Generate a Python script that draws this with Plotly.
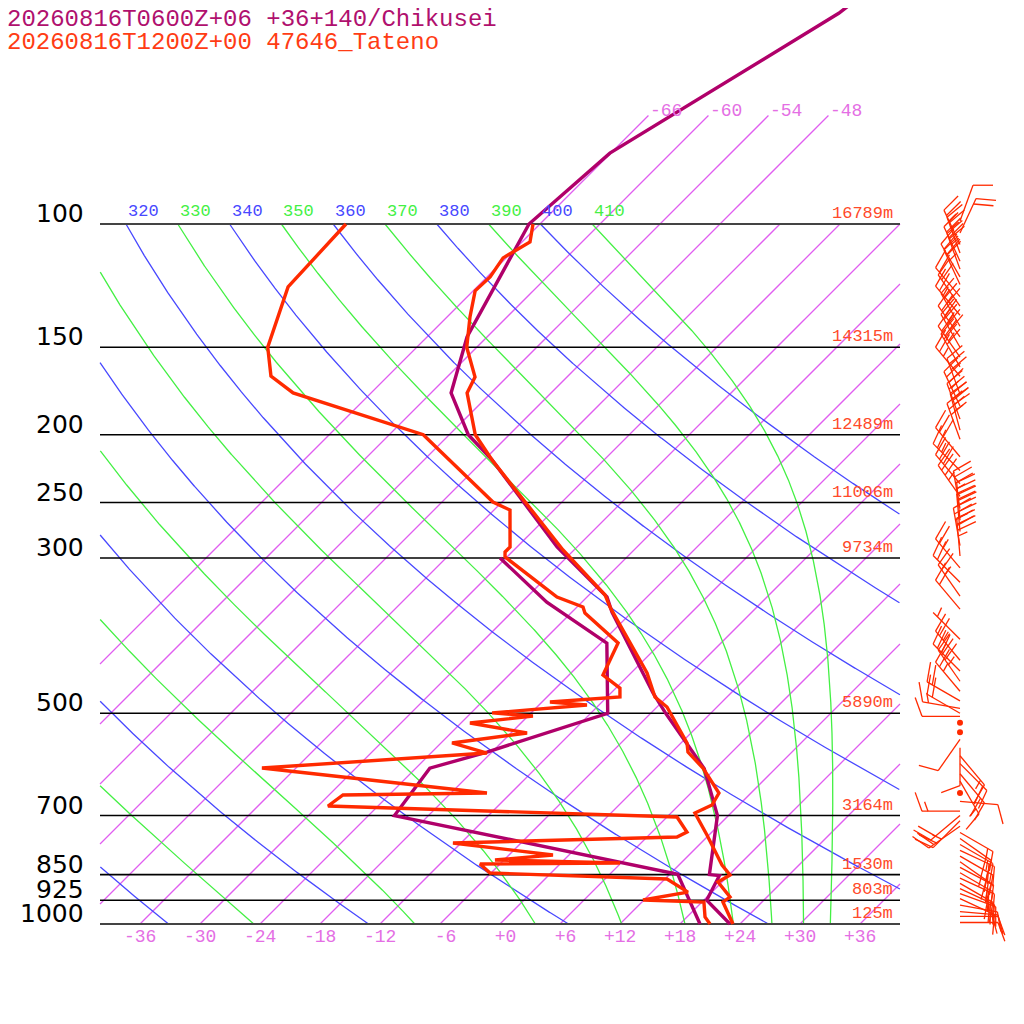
import numpy as np
import plotly.graph_objects as go

# --- sounding 1: 20260816T0600Z+06 +36+140/Chikusei (purple) ---
chik_t_p = [47.9, 50.0, 79.2, 100, 145, 174.3, 200, 217.3, 289.3, 341.1, 358.4,
            467.7, 500, 600, 700, 850, 853, 925, 1000]
chik_t = [-56.8, -57.2, -66.1, -67.1, -62.0, -58.0, -52.1, -47.2, -32.0, -22.0, -20.0,
          -7.8, -4.5, 4.9, 10.9, 16.0, 17.1, 18.3, 23.0]
chik_td_p = [300, 347, 397, 500, 568, 599, 700, 849, 1000]
chik_td = [-36.6, -27.5, -17.4, -10.3, -18.5, -22.6, -21.4, 12.8, 20.0]

# --- sounding 2: 20260816T1200Z+00 47646_Tateno (red) ---
tat_t_p = [100, 106.1, 111.8, 119.0, 124.6, 135.8, 150, 165.4, 174.3, 200, 217.3,
           292.2, 338.8, 352.5, 437.9, 474, 489.8, 551.3, 568, 598.7, 650, 676.1,
           694.3, 746.3, 802.3, 823.6, 851, 871, 915.1, 930.4, 1000]
tat_t = [-66.7, -65.2, -66.3, -65.7, -65.8, -63.7, -61.0, -57.2, -56.4, -51.4, -47.2,
         -31.1, -22.4, -20.7, -10.4, -7.2, -5.0, 0.6, 1.6, 4.7, 8.8, 9.3,
         8.4, 11.8, 15.1, 16.3, 18.1, 17.6, 20.3, 20.1, 23.3]
tat_td_p = [100, 123.0, 150, 164.9, 174.3, 200, 249.6, 256.2, 289.3, 294.1, 299.0,
            341.1, 352.5, 359.6, 396.7, 440.9, 460.2, 474.0, 481.9, 486.6, 499.4,
            504.6, 516.3, 533.4, 551.3, 569.8, 598.7, 650.0, 654.2, 678.3, 703.3,
            739.0, 751.2, 766.2, 797.0, 810.2, 818.2, 820.9, 845.5, 862.4, 900.4,
            924.2, 930.4, 977.2, 1000]
tat_td = [-85.4, -84.9, -80.9, -77.7, -73.8, -56.6, -42.9, -40.4, -36.7, -36.7, -36.2,
          -27.0, -23.4, -22.6, -16.3, -14.6, -11.6, -10.7, -17.2, -13.2, -21.9,
          -17.5, -23.1, -16.4, -22.9, -18.4, -39.4, -14.4, -28.6, -29.0, 7.0,
          9.5, 9.0, -12.8, -1.6, -6.9, 5.9, -8.0, -6.1, 12.2, 15.6,
          11.9, 18.2, 19.8, 21.0]

# winds (Tateno): pressure hPa, direction deg, speed kt
wind_p = [99, 103, 107, 110, 113, 116, 119, 122, 127, 131, 135, 140, 145, 150, 155,
          160, 165, 175, 182, 190, 197, 203, 215, 225, 235, 245, 255, 265, 275, 288,
          298, 310, 325, 340, 355, 392, 420, 435, 450, 465, 480, 492, 500, 505, 516,
          532, 545, 560, 575, 590, 610, 625, 650, 668, 690, 700, 712, 725, 740, 755,
          770, 785, 800, 815, 830, 845, 860, 875, 890, 905, 920, 940, 960, 975, 995]
wind_dir = [20, 25, 335, 340, 335, 340, 330, 335, 320, 325, 320, 330, 325, 330, 325,
            330, 320, 340, 335, 340, 345, 340, 320, 315, 320, 325, 350, 355, 355, 350,
            355, 320, 315, 325, 320, 315, 320, 315, 325, 320, 300, 280, 300, 270, 0,
            0, 215, 180, 140, 135, 140, 150, 0, 95, 270, 230, 225, 235, 120, 125,
            120, 115, 120, 125, 118, 120, 115, 120, 115, 110, 115, 100, 95, 90, 90]
wind_spd = [10, 20, 25, 25, 30, 25, 30, 25, 20, 20, 25, 30, 35, 40, 35,
            30, 25, 30, 35, 40, 35, 30, 30, 25, 30, 35, 35, 40, 45, 40,
            35, 25, 20, 25, 20, 5, 25, 30, 35, 25, 20, 15, 20, 10, 0,
            0, 10, 10, 15, 20, 20, 15, 0, 10, 15, 20, 25, 20, 15, 20,
            15, 20, 20, 25, 20, 15, 20, 20, 15, 20, 15, 15, 20, 15, 10]

press_levels = [100, 150, 200, 250, 300, 500, 700, 850, 925, 1000]
heights = ["16789m", "14315m", "12489m", "11006m", "9734m", "5890m", "3164m",
           "1530m", "803m", "125m"]
temp_ticks = [-36, -30, -24, -18, -12, -6, 0, 6, 12, 18, 24, 30, 36]
isotherms = list(range(-66, 37, 6))
dry_thetas = list(range(240, 401, 20))
moist_thetas = list(range(250, 411, 20))

PURPLE = "#b0006a"
RED = "#ff2a00"
BLUE = "#4848ff"
GREEN = "#44f044"
ISO = "#e05ef0"
ISO_TXT = "#e46ee4"
MONO = "Liberation Mono"

OFF = 8            # page margin of the browser body
W = H = 1008
SKEW = 70.0        # degrees of skew per decade of pressure
KX = 10.0          # px per degree
KY = 700.0         # px per decade


def skx(t, p):
    return np.asarray(t, float) + SKEW * (3 - np.log10(np.asarray(p, float)))


def clip(xs):
    xs = np.array(xs, float)
    xs[(xs < -40) | (xs > 40)] = np.nan
    return xs


fig = go.Figure()

# isotherms (straight in this projection: clip the ends exactly), one trace
ix, iy = [], []
for t in isotherms:
    top = 70 if t <= -48 else 100
    l_hi = min(3.0, 3 - (-40 - t) / SKEW)
    l_lo = max(np.log10(top), 3 - (40 - t) / SKEW)
    if l_lo >= l_hi:
        continue
    pp = [10 ** l_lo, 10 ** l_hi]
    ix += list(skx(t, pp)) + [None]
    iy += pp + [None]
fig.add_trace(go.Scatter(x=ix, y=iy, mode="lines", name="isotherms",
                         line=dict(color=ISO, width=1.3), hoverinfo="skip"))

# dry adiabats
pp = np.logspace(2, 3, 1500)
for th in dry_thetas:
    tt = th * (pp / 1000) ** 0.2857 - 273.15
    fig.add_trace(go.Scatter(x=clip(skx(tt, pp)), y=pp, mode="lines",
                             line=dict(color=BLUE, width=1.3), hoverinfo="skip"))

# moist (pseudo) adiabats, integrated down from 100 hPa
Rd, cp, Lv, eps = 287.04, 1005.7, 2.501e6, 0.622


def dtdlnp(T, p):
    e = 6.112 * np.exp(17.67 * (T - 273.15) / (T - 29.65))
    rs = eps * e / (p - e)
    return (Rd * T + Lv * rs) / (cp + Lv * Lv * rs * eps / (Rd * T * T))


lnp = np.linspace(np.log(100), np.log(1000), 1500)
for th in moist_thetas:
    T = th * 0.1 ** 0.2857
    out = [T]
    for i in range(len(lnp) - 1):
        h = lnp[i + 1] - lnp[i]
        p0 = np.exp(lnp[i])
        k1 = dtdlnp(T, p0)
        k2 = dtdlnp(T + h * k1 / 2, np.exp(lnp[i] + h / 2))
        k3 = dtdlnp(T + h * k2 / 2, np.exp(lnp[i] + h / 2))
        k4 = dtdlnp(T + h * k3, np.exp(lnp[i + 1]))
        T = T + h * (k1 + 2 * k2 + 2 * k3 + k4) / 6
        out.append(T)
    mp = np.exp(lnp)
    fig.add_trace(go.Scatter(x=clip(skx(np.array(out) - 273.15, mp)), y=mp, mode="lines",
                             line=dict(color=GREEN, width=1.3), hoverinfo="skip"))

# pressure lines
for p in press_levels:
    edge = p in (100, 1000)
    fig.add_trace(go.Scatter(x=[-40, 40], y=[p, p], mode="lines",
                             line=dict(color="#444444" if edge else "black",
                                       width=2.2 if edge else 1.6),
                             hoverinfo="skip"))

# soundings
fig.add_trace(go.Scatter(x=skx(chik_td, chik_td_p), y=chik_td_p, mode="lines",
                         line=dict(color=PURPLE, width=3.4)))
fig.add_trace(go.Scatter(x=skx(chik_t, chik_t_p), y=chik_t_p, mode="lines",
                         line=dict(color=PURPLE, width=3.4)))
fig.add_trace(go.Scatter(x=skx(tat_td, tat_td_p), y=tat_td_p, mode="lines",
                         line=dict(color=RED, width=3.4)))
fig.add_trace(go.Scatter(x=skx(tat_t, tat_t_p), y=tat_t_p, mode="lines",
                         line=dict(color=RED, width=3.4)))

# wind barbs, anchored at 960 px
bx, by, cx, cy = [], [], [], []
X0 = (960 - 500) / KX
for p, d, s in zip(wind_p, wind_dir, wind_spd):
    L0 = np.log10(p)
    if s == 0:
        cx.append(X0)
        cy.append(p)
        continue
    r = np.radians(d)
    ux, uy = np.sin(r), -np.cos(r)
    a = np.radians(70)
    fx, fy = ux * np.cos(a) - uy * np.sin(a), ux * np.sin(a) + uy * np.cos(a)
    segs = [((0, 0), (ux * 38, uy * 38))]
    pos = 38
    n10, n5 = s // 10, (s % 10) // 5
    for _ in range(n10):
        sx, sy = ux * pos, uy * pos
        segs.append(((sx, sy), (sx + fx * 20, sy + fy * 20)))
        pos -= 6
    if n5:
        if n10 == 0:
            pos -= 6
        sx, sy = ux * pos, uy * pos
        segs.append(((sx, sy), (sx + fx * 10, sy + fy * 10)))
    for (x1, y1), (x2, y2) in segs:
        bx += [X0 + x1 / KX, X0 + x2 / KX, None]
        by += [10 ** (L0 + y1 / KY), 10 ** (L0 + y2 / KY), None]
fig.add_trace(go.Scatter(x=bx, y=by, mode="lines", line=dict(color=RED, width=1.3),
                         hoverinfo="skip"))
fig.add_trace(go.Scatter(x=cx, y=cy, mode="markers", marker=dict(color=RED, size=6),
                         hoverinfo="skip"))

ann = []
# titles (anchored just inside the left edge so they stay visible)
tx = (OFF - 500) / KX + 0.1
ann.append(dict(x=tx, y=3 - (924 - 19) / KY, text="20260816T0600Z+06 +36+140/Chikusei",
                xanchor="left", yanchor="middle", xshift=-4,
                font=dict(family=MONO, size=24, color="#b0106e")))
ann.append(dict(x=tx, y=3 - (924 - 42) / KY, text="20260816T1200Z+00 47646_Tateno",
                xanchor="left", yanchor="middle", xshift=-4,
                font=dict(family=MONO, size=24, color="#ff3c14")))
# pressure labels and heights
for p, h in zip(press_levels, heights):
    ann.append(dict(x=-40, y=np.log10(p), text=str(p), xanchor="right", yanchor="bottom",
                    xshift=-14, yshift=-6, font=dict(family="DejaVu Sans", size=25, color="black")))
    ann.append(dict(x=39.5, y=np.log10(p), text=h, xanchor="right", yanchor="bottom",
                    yshift=-1, font=dict(family=MONO, size=17, color="#ff4a2a")))
# temperature ticks
for t in temp_ticks:
    lab = ("%+d" % t).rjust(3).replace(" ", "\u00a0")
    ann.append(dict(x=t, y=3, text=lab, xanchor="center", yanchor="top", yshift=-1,
                    font=dict(family=MONO, size=18, color=ISO_TXT)))
# isotherm labels at top
for t in isotherms:
    if t <= -48:
        ann.append(dict(x=float(skx(t, 70)), y=np.log10(70), text=str(t), xanchor="left",
                        yanchor="middle", yshift=5, font=dict(family=MONO, size=18, color=ISO_TXT)))
# adiabat labels along 100 hPa
for th in dry_thetas + moist_thetas:
    xx = float(skx(th * 0.1 ** 0.2857 - 273.15, 100))
    if xx < -40:
        continue
    ann.append(dict(x=xx, y=2, text=str(th), xanchor="left", yanchor="bottom", yshift=1,
                    font=dict(family=MONO, size=17, color=BLUE if th % 20 == 0 else GREEN)))
for a in ann:
    a["showarrow"] = False

fig.update_layout(
    width=W, height=H,
    margin=dict(l=0, r=0, t=0, b=0),
    paper_bgcolor="white", plot_bgcolor="white",
    showlegend=False,
    xaxis=dict(range=[(OFF - 500) / KX, (OFF + W - 500) / KX], visible=False, fixedrange=True),
    yaxis=dict(type="log", range=[3 - (924 - OFF - H) / KY, 3 - (924 - OFF) / KY],
               visible=False, fixedrange=True),
    annotations=ann,
)

fig.write_html("out.html")
